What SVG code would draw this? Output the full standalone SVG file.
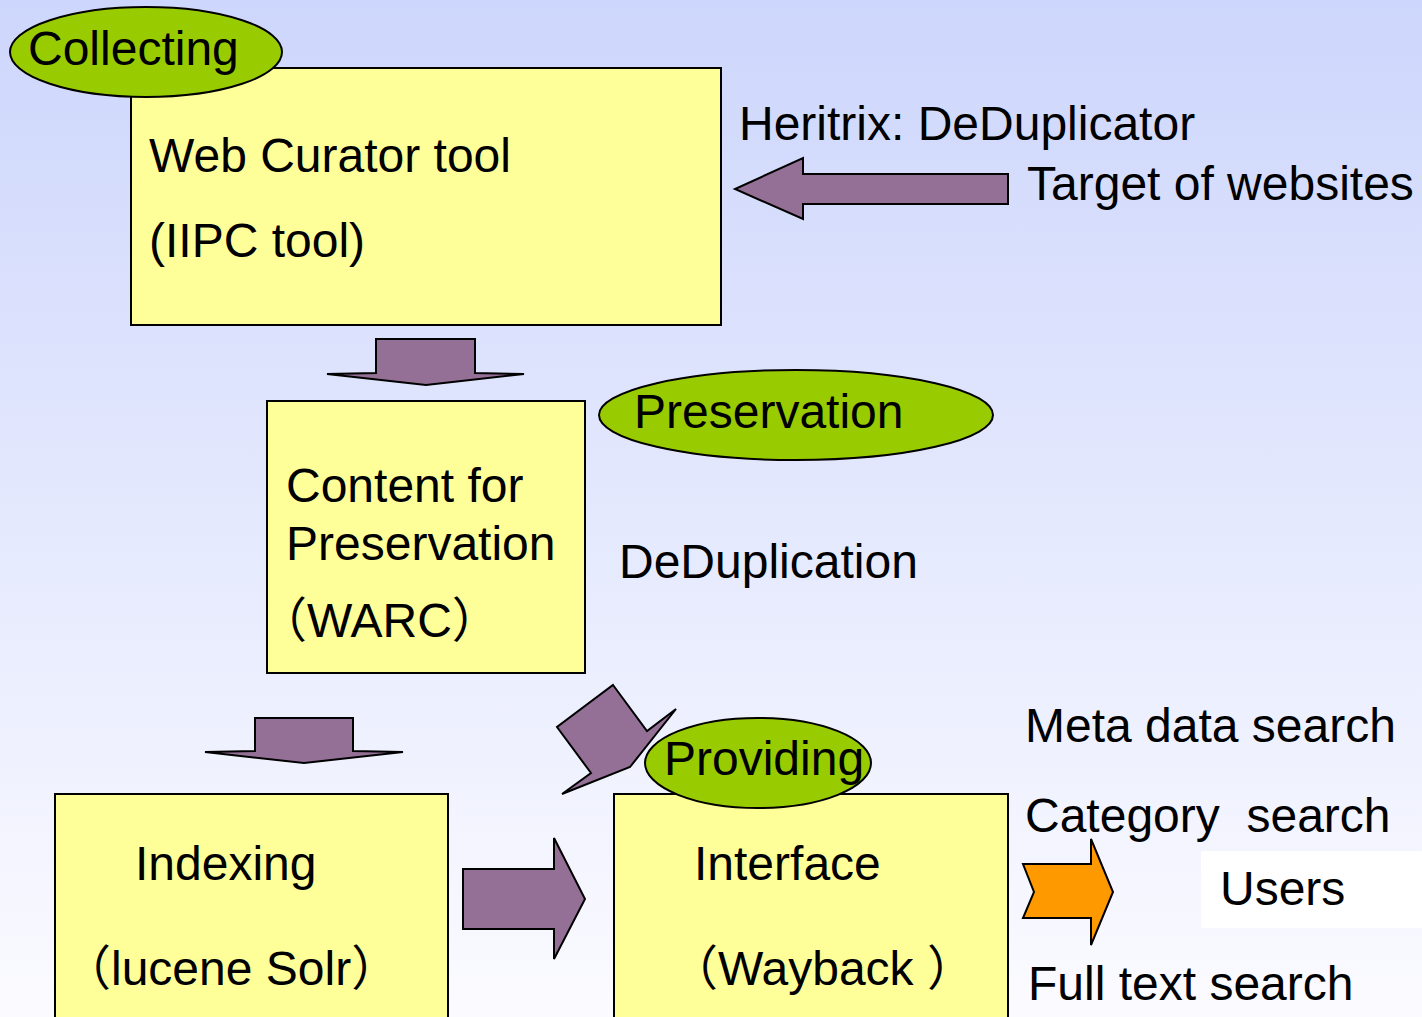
<svg xmlns="http://www.w3.org/2000/svg" width="1422" height="1017" viewBox="0 0 1422 1017">
<defs>
<linearGradient id="bg" x1="0" y1="0" x2="0" y2="1">
<stop offset="0" stop-color="#cdd6fc"/>
<stop offset="1" stop-color="#fbfbff"/>
</linearGradient>
</defs>
<style>
text{font-family:"Liberation Sans","Noto Sans CJK JP",Arial,sans-serif;font-size:48px;fill:#000}
.box{fill:#ffff99;stroke:#000;stroke-width:2}
.oval{fill:#99cc00;stroke:#000;stroke-width:2}
.arr{fill:#957096;stroke:#000;stroke-width:2;stroke-linejoin:miter}
.org{fill:#ff9900;stroke:#000;stroke-width:2}
</style>
<rect x="0" y="0" width="1422" height="1017" fill="url(#bg)"/>
<g id="connectors">
<polygon class="arr" points="1008,174 803,174 803,158 735,189 803,219 803,204 1008,204"/>
<polygon class="arr" points="376,339 475,339 475,373 524,374 426,385 327,374 376,373"/>
<polygon class="arr" points="255,718 353,718 353,751 403,752 304,763 205,752 255,751"/>
<polygon class="arr" points="613,685 647,731 676,709 630,767 562,794 591,773 557,727"/>
<polygon class="arr" points="463,869 554,869 554,838 585,899 554,959 554,929 463,929"/>
<polygon class="org" points="1023,864 1091,864 1091,839 1113,892 1091,945 1091,918 1023,918 1034,892"/>
</g>
<g id="web-curator">
<rect class="box" x="131" y="68" width="590" height="257"/>
<text x="149" y="172">Web Curator tool</text>
<text x="149" y="257">(IIPC tool)</text>
</g>
<g id="collecting">
<ellipse class="oval" cx="146" cy="52" rx="136" ry="45"/>
<text x="28" y="65">Collecting</text>
</g>
<g id="heritrix">
<text x="739" y="140">Heritrix: DeDuplicator</text>
</g>
<g id="target">
<text x="1027" y="200">Target of websites</text>
</g>
<g id="content">
<rect class="box" x="267" y="401" width="318" height="272"/>
<text x="286" y="502">Content for</text>
<text x="286" y="560">Preservation</text>
<text x="259" y="637">（WARC）</text>
</g>
<g id="preservation">
<ellipse class="oval" cx="796" cy="415" rx="197" ry="45"/>
<text x="634" y="428">Preservation</text>
</g>
<g id="deduplication">
<text x="619" y="578">DeDuplication</text>
</g>
<g id="indexing">
<rect class="box" x="55" y="794" width="393" height="240"/>
<text x="135" y="880">Indexing</text>
<text x="63" y="985">（lucene Solr）</text>
</g>
<g id="interface">
<rect class="box" x="614" y="794" width="394" height="240"/>
<text x="694" y="880">Interface</text>
<text x="670" y="985">（Wayback ）</text>
</g>
<g id="providing">
<ellipse class="oval" cx="758" cy="763" rx="113" ry="45"/>
<text x="664" y="775">Providing</text>
</g>
<g id="searches">
<text x="1025" y="742">Meta data search</text>
<text x="1025" y="832" xml:space="preserve">Category  search</text>
<text x="1028" y="1000">Full text search</text>
</g>
<g id="users">
<rect x="1201" y="851" width="221" height="77" fill="#ffffff"/>
<text x="1220" y="905">Users</text>
</g>
</svg>
